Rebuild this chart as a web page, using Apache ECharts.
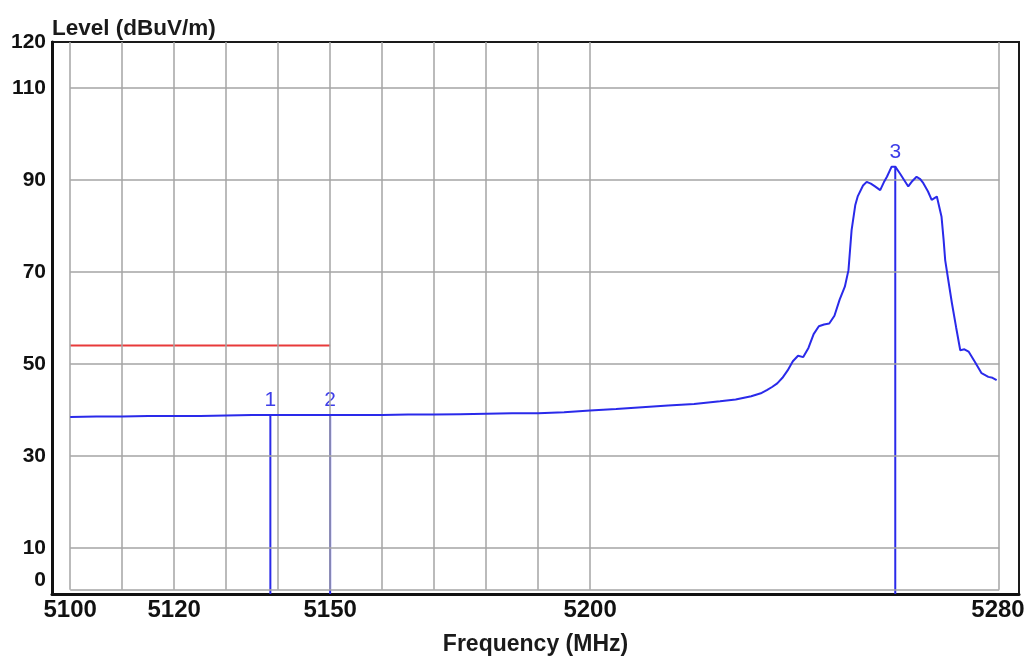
<!DOCTYPE html>
<html>
<head>
<meta charset="utf-8">
<script src="https://cdn.jsdelivr.net/npm/echarts@6/dist/echarts.min.js"></script>
<style>
html,body{margin:0;padding:0;background:#fff;}
#chart{width:1030px;height:656px;}
</style>
</head>
<body>
<div id="chart"></div>
<script>
// ---- data ----
const traceFreq = [5100,5105,5110,5115,5120,5125,5130,5135,5140,5145,5150,5155,5160,5165,5170,5175,5180,5185,5190,5195,
  5200,5205,5210,5215,5220,5225,5228,5231,5233,5234,5235,5236,5237,5238,5239,5240,5241,5242,5243,5244,5245,5246,5247,5248,5249,
  5249.7,5250.3,5251,5251.5,5252.5,5253.2,5254,5254.8,5255.8,5256.5,5257.1,5258,5258.7,5259.6,5260.4,5261.2,5262,5262.8,5263.5,
  5264.1,5265,5265.7,5266.7,5267.6,5268,5268.3,5269,5269.6,5270.4,5271.2,5272,5272.8,5274,5275.3,5276.6,5277.4,5278.2];
const traceLevel = [38.5,38.6,38.6,38.7,38.7,38.7,38.8,38.9,38.9,38.9,38.9,38.9,38.9,39.0,39.0,39.1,39.2,39.3,39.3,39.5,
  39.9,40.2,40.6,41.0,41.3,41.9,42.3,43.0,43.7,44.3,45.0,45.8,47.0,48.6,50.6,51.8,51.5,53.5,56.5,58.2,58.6,58.8,60.5,64.0,66.8,
  70.4,79.1,84.5,86.5,88.8,89.6,89.2,88.6,87.8,89.5,90.7,92.9,92.9,91.4,90.0,88.6,89.8,90.7,90.2,
  89.3,87.5,85.7,86.4,82.0,77.0,72.6,67.5,63.2,58.0,53.0,53.2,52.7,50.5,48.0,47.2,47.0,46.5];
const limitFreq = [5100, 5150];
const limitLevel = [54, 54];
const markerNames = ['1', '2', '3'];
const markerFreq = [5138.5, 5150, 5258.7];
const markerLevel = [38.9, 38.9, 92.9];
const xTickLabels = [5100, 5120, 5150, 5200, 5280];
const yTickLabels = [0, 10, 30, 50, 70, 90, 110, 120];
const gridFreqs = [5100,5110,5120,5130,5140,5150,5160,5170,5180,5190,5200,5278.7];
const gridLevels = [10,30,50,70,90,110];
const plotBottomLevel = 0.9;

const FONT = "'Liberation Sans', Arial, sans-serif";
const BLUE = '#2a2aea';

const gridLineData = [];
gridFreqs.forEach(f => gridLineData.push([{coord:[f, plotBottomLevel]}, {coord:[f, 120]}]));
gridLevels.forEach(l => gridLineData.push([{coord:[gridFreqs[0], l]}, {coord:[gridFreqs[gridFreqs.length-1], l]}]));
gridLineData.push([{coord:[gridFreqs[0], plotBottomLevel]}, {coord:[gridFreqs[gridFreqs.length-1], plotBottomLevel]}]);

const lastX = xTickLabels[xTickLabels.length - 1];
const chart = echarts.init(document.getElementById('chart'));
chart.setOption({
  animation: false,
  backgroundColor: '#fff',
  grid: {left: 52, right: 11, top: 42, bottom: 62, show: true, borderColor: '#1a1a1a', borderWidth: 2,
         containLabel: false, outerBoundsMode: 'none'},
  xAxis: {
    type: 'value', min: 5096.5, max: 5282.5,
    name: 'Frequency (MHz)', nameLocation: 'middle', nameGap: 39,
    nameTextStyle: {fontFamily: FONT, fontWeight: 'bold', fontSize: 23, color: '#1a1a1a'},
    axisLine: {show: true, lineStyle: {color: '#111', width: 3}},
    axisTick: {show: false},
    splitLine: {show: false},
    axisLabel: {customValues: xTickLabels, margin: 4, fontFamily: FONT, fontWeight: 'bold', fontSize: 24, color: '#111',
                formatter: v => v === lastX ? '{r|' + v + '}' : String(v),
                rich: {r: {fontFamily: FONT, fontWeight: 'bold', fontSize: 24, color: '#111', padding: [0, 16, 0, 0]}}}
  },
  yAxis: {
    type: 'value', min: 0, max: 120,
    name: 'Level (dBuV/m)', nameLocation: 'end', nameGap: 2,
    nameTextStyle: {fontFamily: FONT, fontWeight: 'bold', fontSize: 22.5, color: '#1a1a1a', align: 'left', verticalAlign: 'bottom'},
    axisLine: {show: true, lineStyle: {color: '#111', width: 3}},
    axisTick: {show: false},
    splitLine: {show: false},
    axisLabel: {
      customValues: yTickLabels, margin: 6, fontFamily: FONT, fontWeight: 'bold', fontSize: 21, color: '#111',
      formatter: v => v === 0 ? '{z|0}' : String(v),
      rich: {z: {fontFamily: FONT, fontWeight: 'bold', fontSize: 21, color: '#111', padding: [0, 0, 28, 0]}}
    }
  },
  series: [
    {
      type: 'line', data: [], z: 1, silent: true,
      markLine: {
        silent: true, symbol: ['none', 'none'], animation: false,
        label: {show: false},
        lineStyle: {color: '#a4a4a4', width: 1.5, type: 'solid'},
        emphasis: {disabled: true},
        data: gridLineData
      }
    },
    {
      type: 'line', z: 3, showSymbol: false, symbol: 'none',
      lineStyle: {color: '#e83a3a', width: 2},
      data: limitFreq.map((f, i) => [f, limitLevel[i]])
    },
    {
      type: 'bar', z: 4, barWidth: 2,
      itemStyle: {color: BLUE},
      label: {
        show: true, position: 'top', distance: 4,
        fontFamily: FONT, fontSize: 21, color: '#3d3de8',
        formatter: p => markerNames[p.dataIndex]
      },
      data: markerFreq.map((f, i) => [f, markerLevel[i]])
    },
    {
      type: 'line', z: 5, showSymbol: false, symbol: 'none',
      lineStyle: {color: BLUE, width: 2},
      data: traceFreq.map((f, i) => [f, traceLevel[i]])
    }
  ]
});
</script>
</body>
</html>
